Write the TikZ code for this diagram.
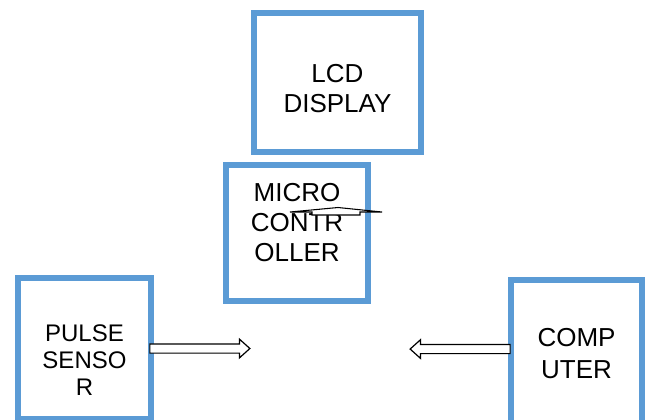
\documentclass[tikz,border=0pt]{standalone}
\usepackage{fontspec}
\setmainfont{Liberation Sans}
\usetikzlibrary{shapes.arrows, positioning}

\definecolor{boxblue}{RGB}{91,155,213}

\tikzset{
    blockbox/.style={draw=boxblue, line width=4.9pt, fill=white, inner sep=0pt},
    blocktext/.style={align=center, font=\fontsize{19.5}{22.5}\selectfont},
    flowarrow/.style={single arrow, draw=black, fill=white, line width=0.9pt,
        inner sep=3pt, single arrow head extend=3.6pt, single arrow tip angle=84,
        minimum height=75pt},
}

\begin{document}
\begin{tikzpicture}[x=0.75pt, y=-0.75pt]
    \useasboundingbox (0,0) rectangle (645,419);

    % blocks
    \node[blockbox, minimum width=125.25pt, minimum height=104.25pt,
        label={[blocktext, yshift=-4.9pt]center:LCD\\DISPLAY}] (lcd) at (337.5,82.5) {};
    \node[blockbox, minimum width=106.5pt, minimum height=102pt,
        label={[blocktext, yshift=7.5pt]center:MICRO\\CONTR\\OLLER}] (micro) at (297,233) {};
    \node[blockbox, minimum width=99.75pt, minimum height=105.75pt,
        label={[blocktext, font=\fontsize{18}{20.5}\selectfont, yshift=-8.6pt]center:PULSE\\SENSO\\R}] (pulse) at (84.5,348.5) {};
    \node[blockbox, minimum width=98.25pt, minimum height=108.75pt,
        label={[blocktext, font=\fontsize{19.5}{24}\selectfont, yshift=-1.1pt]center:COMP\\UTER}] (computer) at (576.5,352.5) {};

    % arrows
    \node[flowarrow, anchor=tail, xshift=-3.75pt] (pulsearrow) at (pulse.east) {};
    \node[flowarrow, anchor=tail, shape border rotate=180, xshift=2.25pt, yshift=2.6pt] (computerarrow) at (computer.west) {};

    % squashed arrow over the controller text
    \draw[fill=white, line width=0.8pt] (312,215) -- (312,212) -- (290,212) -- (338,207.5)
        -- (382,212) -- (360,212) -- (360,215) -- cycle;
\end{tikzpicture}
\end{document}
